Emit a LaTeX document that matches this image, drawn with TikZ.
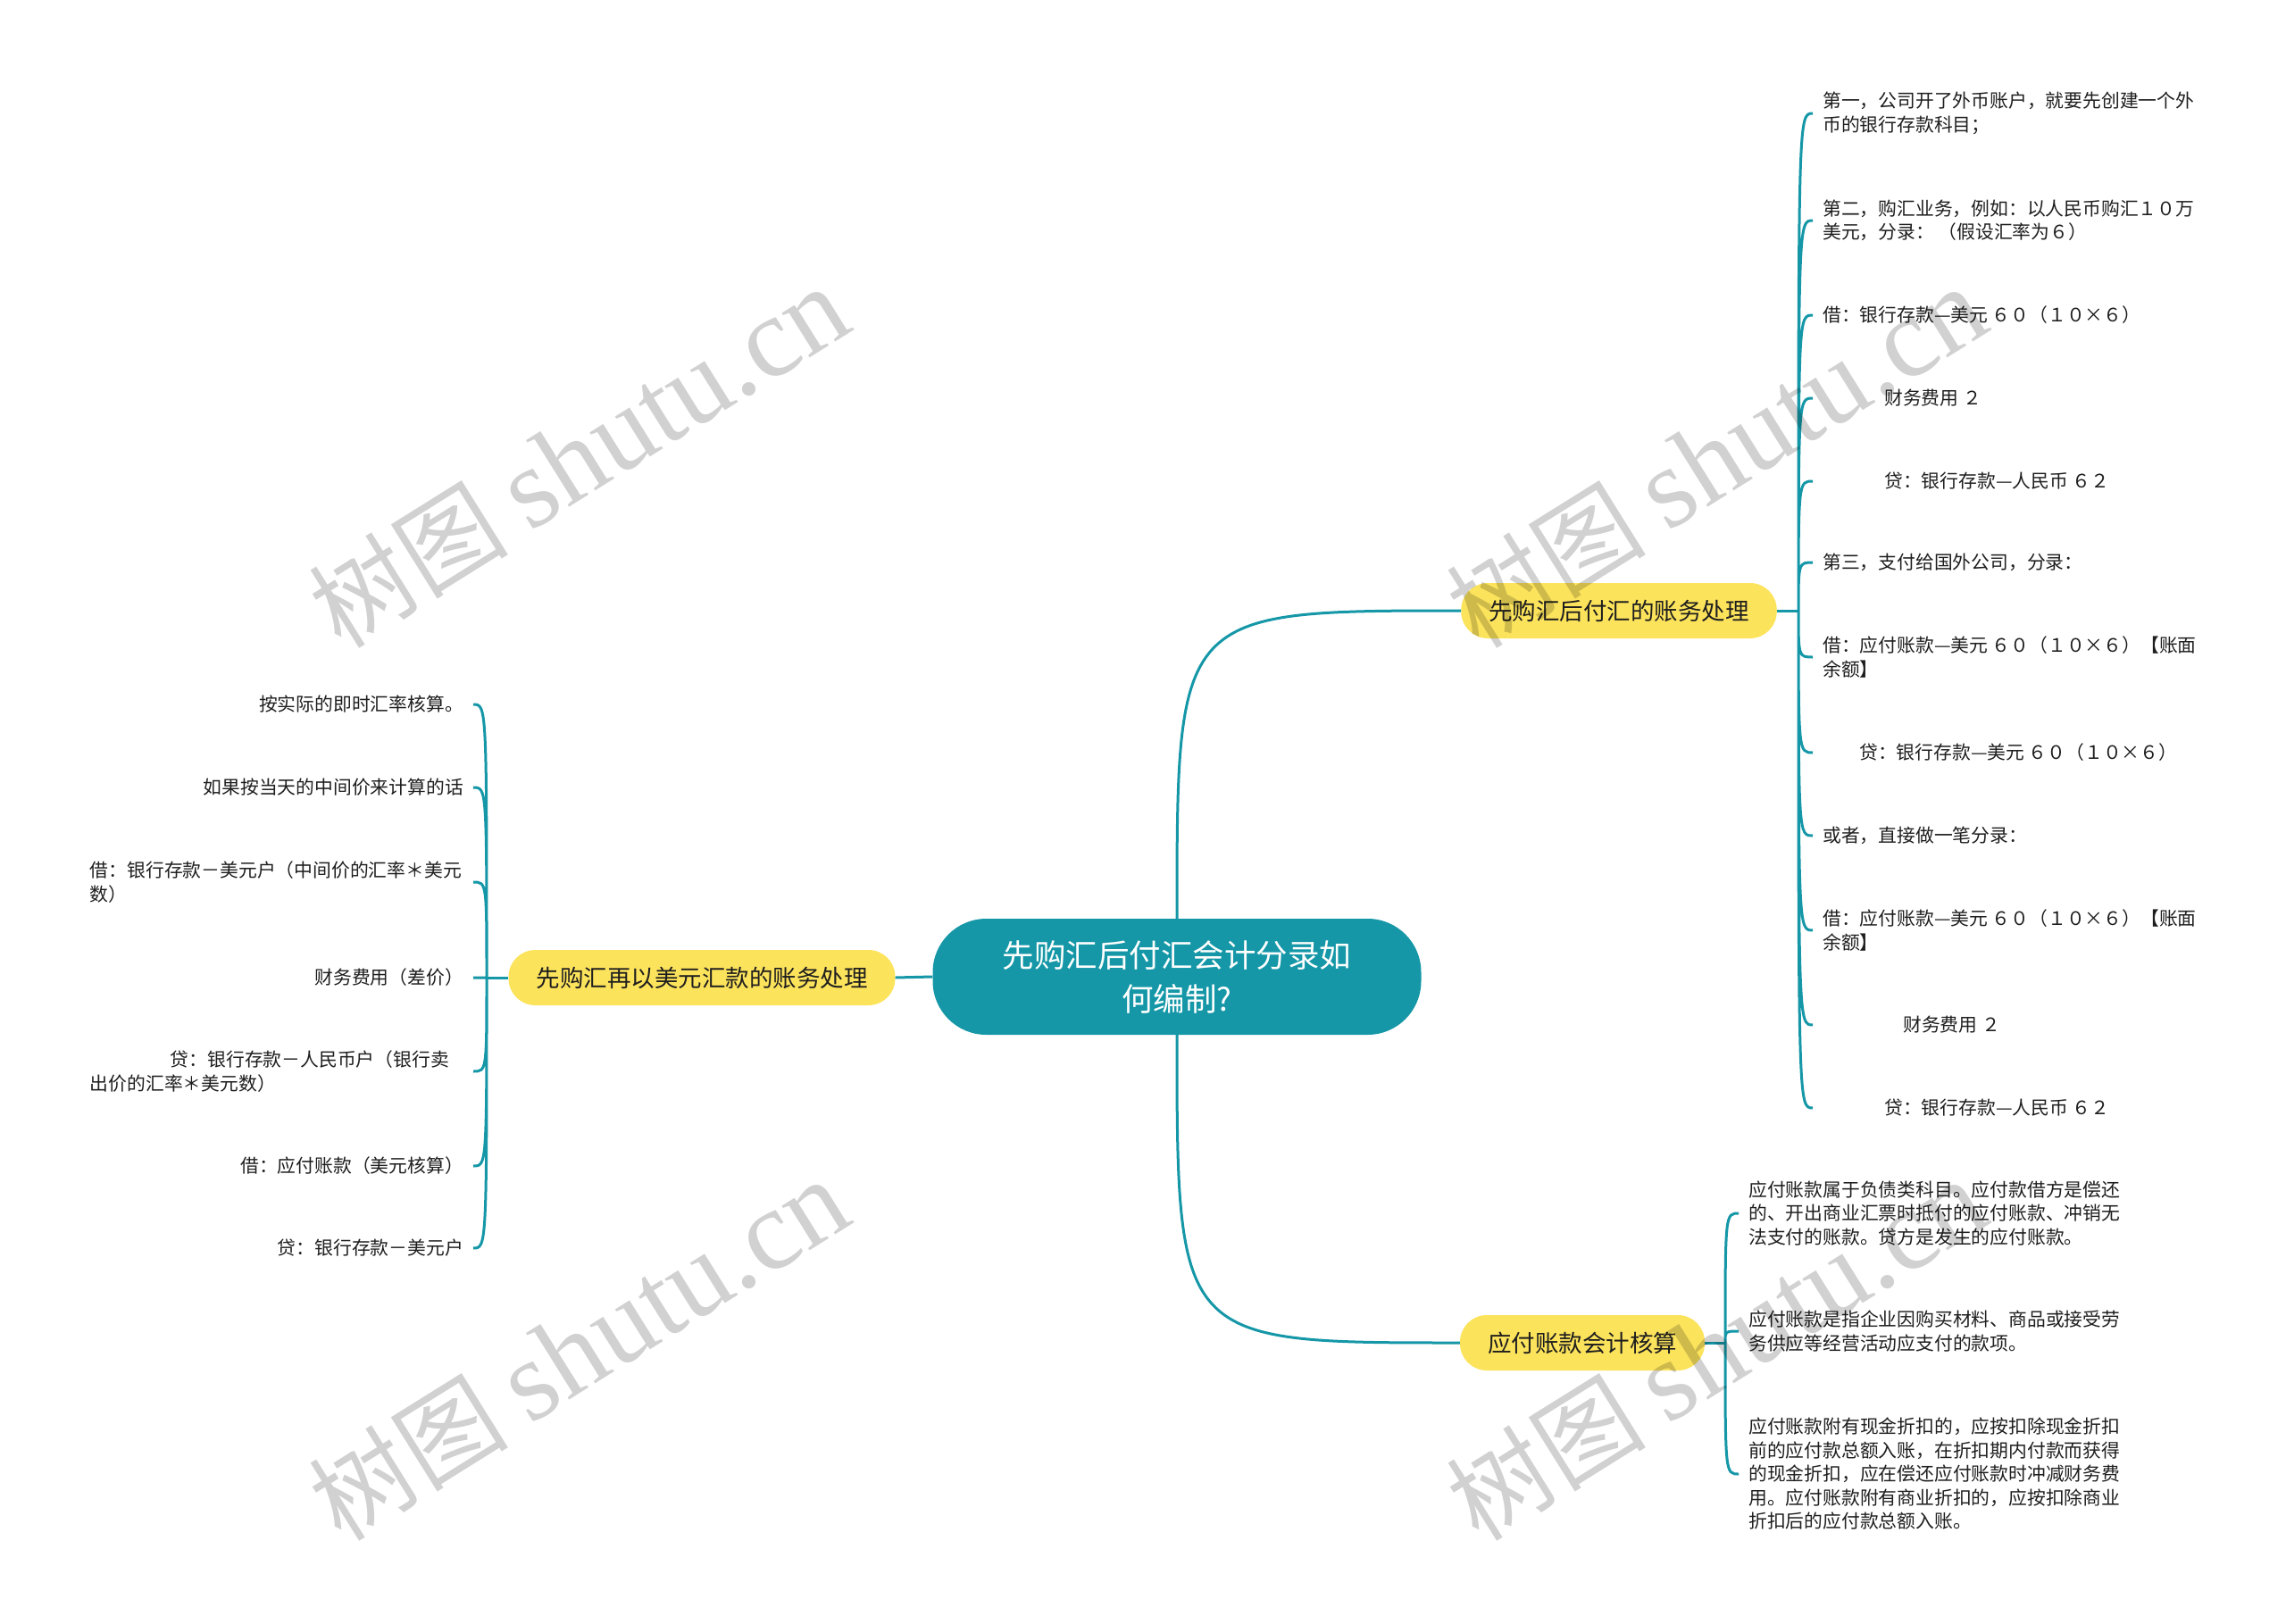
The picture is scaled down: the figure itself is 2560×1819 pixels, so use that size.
\documentclass[tikz,border=0pt]{standalone}
\usepackage{fontspec}
\setmainfont{Noto Sans CJK SC}
\newfontfamily\markfont{Liberation Serif}
\usepackage{tikz}
\definecolor{teal1}{HTML}{1597A7}
\definecolor{sun}{HTML}{FCE35C}
\definecolor{ink}{HTML}{1E1E1E}

\begin{document}
\begin{tikzpicture}[x=1pt, y=-1pt,
    link/.style={teal1, line width=3pt},
    root/.style={fill=teal1, text=white, rounded corners=60pt, minimum width=547pt,
      minimum height=130pt, align=center, font=\fontsize{35.5}{49}\selectfont},
    topic/.style={fill=sun, text=ink, rounded corners=30pt, minimum height=62pt,
      inner xsep=31pt, font=\fontsize{26.5}{32}\selectfont},
    leaf/.style={text=ink, inner xsep=11pt, inner ysep=2pt, align=left,
      font=\fontsize{20.8}{26.5}\selectfont},
    wmark/.style={rotate=32, text=black, text opacity=0.18, font=\fontsize{112}{112}\selectfont}]
    \useasboundingbox (0,0) rectangle (2560,1819);

    \node (root) at (1318, 1094) [root] {先购汇后付汇会计分录如\\何编制?};
    \node (b1) at (1813, 684) [topic] {先购汇后付汇的账务处理};
    \node (b2) at (786, 1095) [topic] {先购汇再以美元汇款的账务处理};
    \node (b3) at (1772, 1504) [topic] {应付账款会计核算};

    \coordinate (h1) at (2014, 684);
    \coordinate (h2) at (545, 1095);
    \coordinate (h3) at (1932, 1504);

    % right, top
    \node (r1) at (2030, 127) [leaf, anchor=west] {第一，公司开了外币账户，就要先创建一个外\\币的银行存款科目；};
    \node (r2) at (2030, 247) [leaf, anchor=west] {第二，购汇业务，例如：以人民币购汇１０万\\美元，分录： （假设汇率为６）};
    \node (r3) at (2030, 353) [leaf, anchor=west] {借：银行存款—美元 ６０（１０×６）};
    \node (r4) at (2030, 446) [leaf, anchor=west] {\hspace*{69pt}财务费用 ２};
    \node (r5) at (2030, 539) [leaf, anchor=west] {\hspace*{69pt}贷：银行存款—人民币 ６２};
    \node (r6) at (2030, 630) [leaf, anchor=west] {第三，支付给国外公司，分录：};
    \node (r7) at (2030, 736) [leaf, anchor=west] {借：应付账款—美元 ６０（１０×６）【账面\\余额】};
    \node (r8) at (2030, 843) [leaf, anchor=west] {\hspace*{41pt}贷：银行存款—美元 ６０（１０×６）};
    \node (r9) at (2030, 936) [leaf, anchor=west] {或者，直接做一笔分录：};
    \node (r10) at (2030, 1042) [leaf, anchor=west] {借：应付账款—美元 ６０（１０×６）【账面\\余额】};
    \node (r11) at (2030, 1148) [leaf, anchor=west] {\hspace*{90pt}财务费用 ２};
    \node (r12) at (2030, 1241) [leaf, anchor=west] {\hspace*{69pt}贷：银行存款—人民币 ６２};

    % left
    \node (l1) at (530, 789) [leaf, anchor=east] {按实际的即时汇率核算。};
    \node (l2) at (530, 882) [leaf, anchor=east] {如果按当天的中间价来计算的话};
    \node (l3) at (530, 988) [leaf, anchor=east, text width=418pt] {借：银行存款－美元户（中间价的汇率＊美元\\数）};
    \node (l4) at (530, 1095) [leaf, anchor=east] {财务费用（差价）};
    \node (l5) at (530, 1200) [leaf, anchor=east, text width=418pt] {\hspace*{90pt}贷：银行存款－人民币户（银行卖\\出价的汇率＊美元数）};
    \node (l6) at (530, 1306) [leaf, anchor=east] {借：应付账款（美元核算）};
    \node (l7) at (530, 1398) [leaf, anchor=east] {贷：银行存款－美元户};

    % right, bottom
    \node (s1) at (1947, 1359) [leaf, anchor=west] {应付账款属于负债类科目。应付款借方是偿还\\的、开出商业汇票时抵付的应付账款、冲销无\\法支付的账款。贷方是发生的应付账款。};
    \node (s2) at (1947, 1491) [leaf, anchor=west] {应付账款是指企业因购买材料、商品或接受劳\\务供应等经营活动应支付的款项。};
    \node (s3) at (1947, 1651) [leaf, anchor=west] {应付账款附有现金折扣的，应按扣除现金折扣\\前的应付款总额入账，在折扣期内付款而获得\\的现金折扣，应在偿还应付账款时冲减财务费\\用。应付账款附有商业折扣的，应按扣除商业\\折扣后的应付款总额入账。};

    \draw[link] (root.west) -- (b2.east);
    \draw[link] (root.north) .. controls (root.north |- b1.west) .. (b1.west);
    \draw[link] (root.south) .. controls (root.south |- b3.west) .. (b3.west);

    \draw[link] (b1.east) -- (h1);
    \draw[link] (h1) .. controls (h1 |- r1.west) .. (r1.west)
        (h1) .. controls (h1 |- r2.west) .. (r2.west)
        (h1) .. controls (h1 |- r3.west) .. (r3.west)
        (h1) .. controls (h1 |- r4.west) .. (r4.west)
        (h1) .. controls (h1 |- r5.west) .. (r5.west)
        (h1) .. controls (h1 |- r6.west) .. (r6.west)
        (h1) .. controls (h1 |- r7.west) .. (r7.west)
        (h1) .. controls (h1 |- r8.west) .. (r8.west)
        (h1) .. controls (h1 |- r9.west) .. (r9.west)
        (h1) .. controls (h1 |- r10.west) .. (r10.west)
        (h1) .. controls (h1 |- r11.west) .. (r11.west)
        (h1) .. controls (h1 |- r12.west) .. (r12.west);

    \draw[link] (b2.west) -- (h2);
    \draw[link] (h2) .. controls (h2 |- l1.east) .. (l1.east)
        (h2) .. controls (h2 |- l2.east) .. (l2.east)
        (h2) .. controls (h2 |- l3.east) .. (l3.east)
        (h2) -- (l4.east)
        (h2) .. controls (h2 |- l5.east) .. (l5.east)
        (h2) .. controls (h2 |- l6.east) .. (l6.east)
        (h2) .. controls (h2 |- l7.east) .. (l7.east);

    \draw[link] (b3.east) -- (h3);
    \draw[link] (h3) .. controls (h3 |- s1.west) .. (s1.west)
        (h3) .. controls (h3 |- s2.west) .. (s2.west)
        (h3) .. controls (h3 |- s3.west) .. (s3.west);

    \node (w1) at (648, 512) [wmark] {树图 {\fontsize{128}{128}\markfont shutu.cn}};
    \node (w2) at (1922, 512) [wmark] {树图 {\fontsize{128}{128}\markfont shutu.cn}};
    \node (w3) at (648, 1512) [wmark] {树图 {\fontsize{128}{128}\markfont shutu.cn}};
    \node (w4) at (1922, 1512) [wmark] {树图 {\fontsize{128}{128}\markfont shutu.cn}};
\end{tikzpicture}
\end{document}
